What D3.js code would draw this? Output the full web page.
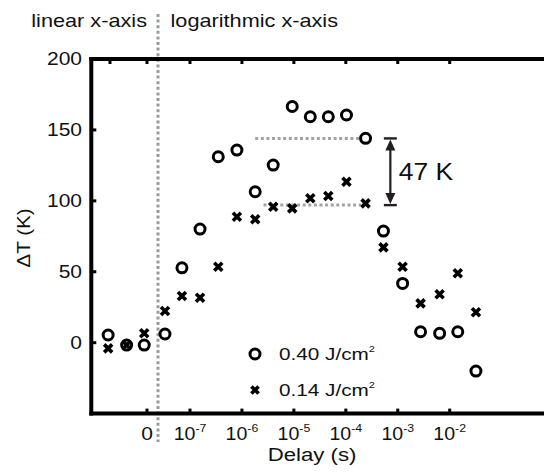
<!DOCTYPE html>
<html>
<head>
<meta charset="utf-8">
<script src="https://cdn.jsdelivr.net/npm/d3@7"></script>
<style>
  html, body { margin: 0; padding: 0; background: #fff; }
  svg { display: block; }
  text { font-family: "Liberation Sans", Arial, Helvetica, sans-serif; fill: #111; }
</style>
</head>
<body>
<svg id="chart" width="544" height="475"></svg>
<script>
// ---------------- data ----------------
// linear part of the delay axis (pre-zero delays, arbitrary linear units)
const linearDelay = [-2.1, -1.1, -0.15];
const linearHigh  = [5.4, -1.7, -1.7];   // 0.40 J/cm2
const linearLow   = [-4.0, -1.7, 6.6];   // 0.14 J/cm2

// logarithmic part of the delay axis (s)
const logDelay = [3.3e-8, 7.0e-8, 1.56e-7, 3.5e-7, 8.0e-7, 1.8e-6, 4.0e-6, 9.3e-6, 2.07e-5,
                  4.6e-5, 1.03e-4, 2.4e-4, 5.3e-4, 1.24e-3, 2.75e-3, 6.4e-3, 1.43e-2, 3.2e-2];
const logHigh = [6.1, 52.8, 80.1, 131.1, 135.8, 106.4, 125.2, 166.5, 159.3,
                 159.3, 160.5, 144.1, 78.7, 41.8, 7.7, 6.6, 7.7, -20.0];   // 0.40 J/cm2
const logLow  = [22.3, 32.9, 31.7, 53.5, 88.8, 87.0, 95.8, 94.7, 101.8,
                 103.4, 113.5, 98.2, 67.2, 53.5, 27.7, 34.1, 48.9, 21.4];  // 0.14 J/cm2

const seriesNames = ["0.40 J/cm", "0.14 J/cm"];
const yTicks = [0, 50, 100, 150, 200];
const logTicks = [1e-7, 1e-6, 1e-5, 1e-4, 1e-3, 1e-2];
const logTickExp = ["-7", "-6", "-5", "-4", "-3", "-2"];
const linTopTicks = [-2, 0];
const linBottomTicks = [0];
const linTickLabels = ["0"];

// annotation: plateau levels and their difference
const plateauHigh = 144, plateauLow = 97;
const plateauHighSpan = [1.8e-6, 2.0e-4];
const plateauLowSpan = [2.6e-6, 2.0e-4];
const arrowDelay = 7.2e-4;
const diffLabel = "47 K";

// ---------------- layout ----------------
const W = 544, H = 475;
const plotLeft = 91.3, plotTop = 59, plotBottom = 413.6, plotRight = 546;
const SX = 1.2; // horizontal glyph stretch of the original typeface
const svg = d3.select("#chart");
svg.append("rect").attr("width", W).attr("height", H).attr("fill", "#fff");

const y = d3.scaleLinear().domain([-50, 200]).range([plotBottom, plotTop]);
const xLin = d3.scaleLinear().domain([-2, 0]).range([110, 147]);
const xLog = d3.scaleLog().domain([1e-7, 1e-2]).range([190, 449.7]);
const splitX = 158;

function stretchedText(g, x, yy, anchor, size, sx = SX) {
  return g.append("text")
    .attr("transform", `translate(${x},${yy}) scale(${sx},1)`)
    .attr("text-anchor", anchor)
    .attr("font-size", size);
}

// ---------------- split line + region labels ----------------
svg.append("line")
  .attr("x1", splitX).attr("x2", splitX).attr("y1", 14).attr("y2", 442)
  .attr("stroke", "#9b9b9b").attr("stroke-width", 3).attr("stroke-dasharray", "3,2.6");

stretchedText(svg, 147, 27, "end", 17.5, 1.24).text("linear x-axis");
stretchedText(svg, 170.5, 27, "start", 17.5, 1.24).text("logarithmic x-axis");

// ---------------- plateau dotted lines ----------------
svg.append("line")
  .attr("x1", xLog(plateauHighSpan[0])).attr("x2", xLog(plateauHighSpan[1]))
  .attr("y1", y(plateauHigh)).attr("y2", y(plateauHigh))
  .attr("stroke", "#a3a3a3").attr("stroke-width", 3).attr("stroke-dasharray", "3,2.6");
svg.append("line")
  .attr("x1", xLog(plateauLowSpan[0])).attr("x2", xLog(plateauLowSpan[1]))
  .attr("y1", y(plateauLow)).attr("y2", y(plateauLow))
  .attr("stroke", "#a3a3a3").attr("stroke-width", 3).attr("stroke-dasharray", "3,2.6");

// ---------------- axes frame ----------------
const frame = svg.append("g").attr("stroke", "#000").attr("fill", "none");
frame.append("line").attr("x1", plotLeft).attr("x2", plotLeft).attr("y1", plotTop - 2).attr("y2", plotBottom + 2).attr("stroke-width", 4);
frame.append("line").attr("x1", plotLeft - 2).attr("x2", plotRight).attr("y1", plotTop).attr("y2", plotTop).attr("stroke-width", 4);
frame.append("line").attr("x1", plotLeft - 2).attr("x2", plotRight).attr("y1", plotBottom).attr("y2", plotBottom).attr("stroke-width", 4);

// y ticks + labels
yTicks.forEach(v => {
  svg.append("line").attr("x1", plotLeft).attr("x2", plotLeft + 5).attr("y1", y(v)).attr("y2", y(v))
    .attr("stroke", "#000").attr("stroke-width", 3);
  stretchedText(svg, 82, y(v) + 6.3, "end", 17.5).text(v);
});

// x ticks (top and bottom, inward)
function xTick(px, isTop) {
  const yy = isTop ? plotTop : plotBottom;
  svg.append("line").attr("x1", px).attr("x2", px)
    .attr("y1", yy).attr("y2", isTop ? yy + 5 : yy - 5)
    .attr("stroke", "#000").attr("stroke-width", 3);
}
linTopTicks.forEach(v => xTick(xLin(v), true));
linBottomTicks.forEach(v => xTick(xLin(v), false));
logTicks.forEach(v => { xTick(xLog(v), true); xTick(xLog(v), false); });

// x tick labels
linBottomTicks.forEach((v, i) => stretchedText(svg, xLin(v), 440, "middle", 17.5).text(linTickLabels[i]));
logTicks.forEach((v, i) => {
  const t = stretchedText(svg, xLog(v), 440, "middle", 17.5, 1.12);
  t.append("tspan").text("10");
  t.append("tspan").attr("font-size", 11).attr("dy", -8).text(logTickExp[i]);
});

// axis titles
stretchedText(svg, 312, 461, "middle", 18.5).text("Delay (s)");
svg.append("text")
  .attr("transform", `translate(30,238) rotate(-90) scale(1.15,1)`)
  .attr("text-anchor", "middle").attr("font-size", 18).text("ΔT (K)");

// ---------------- markers ----------------
const R = 5, CW = 3;
function circle(g, cx, cy) {
  g.append("circle").attr("cx", cx).attr("cy", cy).attr("r", R)
    .attr("fill", "none").attr("stroke", "#000").attr("stroke-width", CW);
}
function cross(g, cx, cy, s = 4) {
  g.append("path")
    .attr("d", `M${cx - s},${cy - s}L${cx + s},${cy + s}M${cx - s},${cy + s}L${cx + s},${cy - s}`)
    .attr("stroke", "#000").attr("stroke-width", 3.6).attr("fill", "none");
}
const marks = svg.append("g");
linearDelay.forEach((d, i) => { cross(marks, xLin(d), y(linearLow[i])); });
logDelay.forEach((d, i) => { cross(marks, xLog(d), y(logLow[i])); });
linearDelay.forEach((d, i) => { circle(marks, xLin(d), y(linearHigh[i])); });
logDelay.forEach((d, i) => { circle(marks, xLog(d), y(logHigh[i])); });

// ---------------- difference arrow ----------------
const ax = xLog(arrowDelay), ay1 = y(plateauHigh), ay2 = y(plateauLow);
const arrowColor = "#231f20";
const ann = svg.append("g");
ann.append("line").attr("x1", ax).attr("x2", ax).attr("y1", ay1 + 8).attr("y2", ay2 - 8)
  .attr("stroke", arrowColor).attr("stroke-width", 2.2);
[ay1, ay2].forEach(v => ann.append("line").attr("x1", ax - 6.5).attr("x2", ax + 6.5)
  .attr("y1", v).attr("y2", v).attr("stroke", arrowColor).attr("stroke-width", 2.4));
ann.append("path").attr("d", `M${ax},${ay1 + 1}L${ax - 5},${ay1 + 12}L${ax + 5},${ay1 + 12}Z`).attr("fill", arrowColor);
ann.append("path").attr("d", `M${ax},${ay2 - 1}L${ax - 5},${ay2 - 12}L${ax + 5},${ay2 - 12}Z`).attr("fill", arrowColor);
stretchedText(svg, ax + 8.5, (ay1 + ay2) / 2 + 8.5, "start", 23, 1.15).text(diffLabel);

// ---------------- legend ----------------
const leg = svg.append("g");
circle(leg, 255, 354);
cross(leg, 255, 390, 3.6);
[354, 390].forEach((ly, i) => {
  const t = stretchedText(leg, 279, ly + 6, "start", 17, 1.22);
  t.append("tspan").text(seriesNames[i]);
  t.append("tspan").attr("font-size", 9).attr("dy", -8).text("2");
});
</script>
</body>
</html>
